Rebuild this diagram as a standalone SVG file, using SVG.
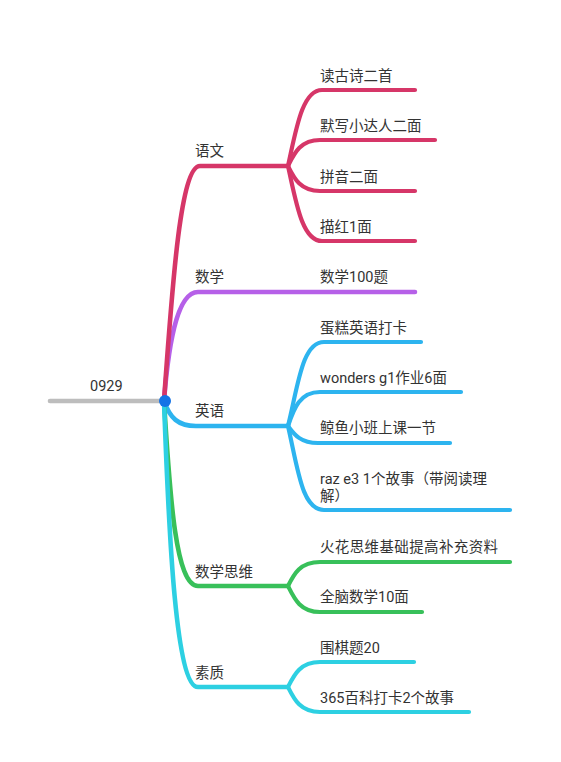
<svg xmlns="http://www.w3.org/2000/svg" width="561" height="762" viewBox="0 0 561 762">
<style>
text{font-family:Roboto,"Noto Sans CJK SC",sans-serif;font-size:14.5px;fill:#333}
.c{fill:none;stroke-linecap:round;stroke-linejoin:round}
.m{stroke-width:4.6}
.s{stroke-width:4.2}
.r{stroke:#d63668}.p{stroke:#b660e8}.b{stroke:#2db4ef}.g{stroke:#38c05a}.y{stroke:#2dd0e2}
</style>
<rect width="561" height="762" fill="#fff"/>
<g id="connectors">
<path class="c m" stroke="#bdbdbd" d="M50 401 L164 401"/>
<path class="c m p" d="M164 401 C168 350 176 292 198 292 L415 292"/>
<path class="c m r" d="M164 401 C172 290 180 166 200 166 L288 166"/>
<path class="c m b" d="M164 401 C170 418 178 426 196 426 L288 426"/>
<path class="c m g" d="M164 401 C170 500 176 586 198 586 L288 586"/>
<path class="c m y" d="M164 401 C169 540 176 687 198 687 L288 687"/>
<path class="c s r" d="M288 166 C296 130 302 90 322 90 L415 90"/>
<path class="c s r" d="M288 166 C294 154 300 140 320 140 L435 140"/>
<path class="c s r" d="M288 166 C294 178 300 191 320 191 L415 191"/>
<path class="c s r" d="M288 166 C296 202 302 241 322 241 L415 241"/>
<path class="c s b" d="M288 426 C298 386 302 342 324 342 L421 342"/>
<path class="c s b" d="M288 426 C294 408 300 392 320 392 L461 392"/>
<path class="c s b" d="M288 426 C294 434 300 443 318 443 L450 443"/>
<path class="c s b" d="M288 426 C298 470 302 510 324 510 L510 510"/>
<path class="c s g" d="M288 586 C294 574 300 562 320 562 L510 562"/>
<path class="c s g" d="M288 586 C294 598 300 612 320 612 L422 612"/>
<path class="c s y" d="M288 687 C294 675 300 662 320 662 L414 662"/>
<path class="c s y" d="M288 687 C294 699 300 712 320 712 L469 712"/>
</g>
<g id="root"><text x="90" y="391">0929</text><circle cx="165" cy="401" r="6" fill="#1473e6"/></g>
<g id="yuwen"><text x="195" y="156">语文</text></g>
<g id="yw1"><text x="320" y="80.5">读古诗二首</text></g>
<g id="yw2"><text x="320" y="131">默写小达人二面</text></g>
<g id="yw3"><text x="320" y="181.5">拼音二面</text></g>
<g id="yw4"><text x="320" y="231.5">描红1面</text></g>
<g id="shuxue"><text x="195" y="282">数学</text></g>
<g id="sx1"><text x="320" y="282">数学100题</text></g>
<g id="yingyu"><text x="195" y="416">英语</text></g>
<g id="yy1"><text x="320" y="332.5">蛋糕英语打卡</text></g>
<g id="yy2"><text x="320" y="382.5">wonders g1作业6面</text></g>
<g id="yy3"><text x="320" y="433">鲸鱼小班上课一节</text></g>
<g id="yy4"><text x="320" y="484">raz e3 1个故事（带阅读理</text><text x="320" y="501">解）</text></g>
<g id="siwei"><text x="195" y="576.5">数学思维</text></g>
<g id="sw1"><text x="320" y="552" textLength="178" lengthAdjust="spacing">火花思维基础提高补充资料</text></g>
<g id="sw2"><text x="320" y="602">全脑数学10面</text></g>
<g id="suzhi"><text x="195" y="677.5">素质</text></g>
<g id="sz1"><text x="320" y="652.5">围棋题20</text></g>
<g id="sz2"><text x="320" y="702.5">365百科打卡2个故事</text></g>
</svg>
